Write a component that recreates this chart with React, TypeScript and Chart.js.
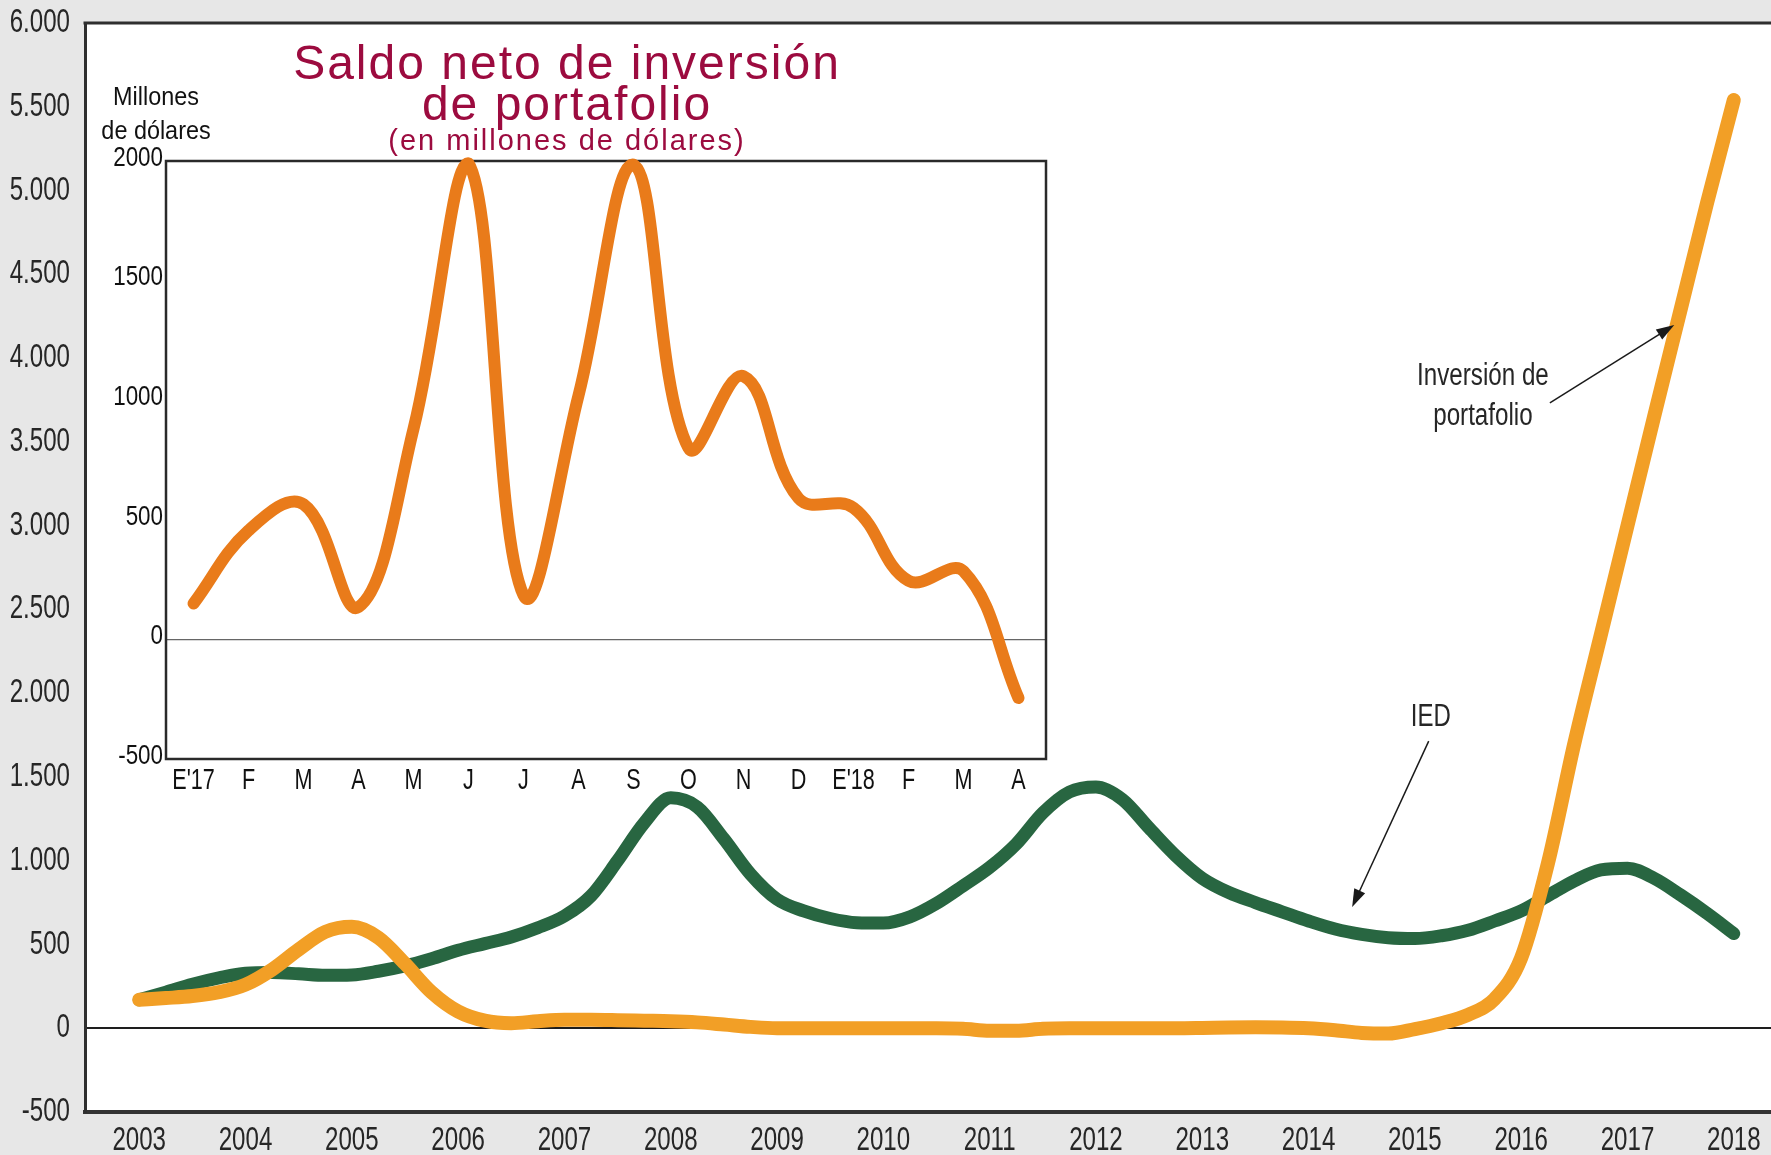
import React, { useEffect, useRef } from 'react';
import { Chart, registerables } from 'chart.js';

Chart.register(...registerables);

// ---------- Main chart data (millones de dólares) ----------
const periods = [
  2003.0, 2003.25, 2003.5, 2003.75, 2004.0, 2004.25, 2004.5, 2004.75,
  2005.0, 2005.25, 2005.5, 2005.75, 2006.0, 2006.25, 2006.5, 2006.75,
  2007.0, 2007.25, 2007.5, 2007.75, 2008.0, 2008.25, 2008.5, 2008.75,
  2009.0, 2009.25, 2009.5, 2009.75, 2010.0, 2010.25, 2010.5, 2010.75,
  2011.0, 2011.25, 2011.5, 2011.75, 2012.0, 2012.25, 2012.5, 2012.75,
  2013.0, 2013.25, 2013.5, 2013.75, 2014.0, 2014.25, 2014.5, 2014.75,
  2015.0, 2015.25, 2015.5, 2015.75, 2016.0, 2016.25, 2016.5, 2016.75,
  2017.0, 2017.25, 2017.5, 2017.75, 2018.0,
];

const iedValues = [
  170, 215, 262, 300, 328, 332, 325, 316,
  318, 340, 372, 415, 465, 505, 545, 600,
  670, 790, 1000, 1225, 1375, 1320, 1130, 920,
  770, 700, 655, 630, 628, 665, 745, 850,
  960, 1100, 1285, 1410, 1440, 1365, 1195, 1030,
  895, 810, 750, 695, 640, 592, 560, 540,
  535, 552, 585, 640, 700, 790, 880, 945,
  955, 895, 795, 685, 565,
];

const portfolioValues = [
  170, 180, 192, 215, 260, 350, 470, 575,
  605, 540, 385, 215, 100, 45, 30, 42,
  50, 50, 48, 45, 42, 35, 22, 8,
  0, 0, 0, 0, 0, 0, 0, -3,
  -15, -15, -3, 0, 0, 0, 0, 0,
  2, 5, 6, 5, 0, -12, -28, -32,
  -5, 30, 80, 175, 420, 980, 1700, 2350,
  3000, 3650, 4290, 4930, 5540,
];

const yearLabels = [
  2003, 2004, 2005, 2006, 2007, 2008, 2009, 2010,
  2011, 2012, 2013, 2014, 2015, 2016, 2017, 2018,
];

// ---------- Inset data ----------
const insetMonths = [
  "E'17", 'F', 'M', 'A', 'M', 'J', 'J', 'A', 'S', 'O', 'N', 'D', "E'18", 'F', 'M', 'A',
];
const insetValues = [
  150, 455, 565, 135, 880, 1990, 185, 1020, 1985, 800, 1100, 590, 550, 245, 285, -245,
];

// Annotation anchors (data coordinates: year, value)
const portfolioLabelAt = { x: 2015.64, y1: 3891, y2: 3652 };
const portfolioArrow = { x0: 2016.27, y0: 3732, x1: 2017.44, y1: 4198 };
const iedLabelAt = { x: 2015.15, y: 1858 };
const iedArrow = { x0: 2015.13, y0: 1714, x1: 2014.41, y1: 723 };

const SANS = '"Liberation Sans", Arial, sans-serif';
const ORANGE = '#f29f26';
const GREEN = '#286641';
const INSET_ORANGE = '#e97b1a';
const MAROON = '#9c0b3f';
const TEXT = '#262626';

function fmtThousands(v: number): string {
  const s = String(Math.abs(Math.round(v)));
  const withDots = s.replace(/\B(?=(\d{3})+(?!\d))/g, '.');
  return (v < 0 ? '-' : '') + withDots;
}

// Condensed text: regular sans squeezed horizontally (the original uses a condensed face)
function condText(
  ctx: CanvasRenderingContext2D, text: string, x: number, y: number,
  size: number, sx: number, align: CanvasTextAlign, color: string
) {
  ctx.save();
  ctx.font = `${size}px ${SANS}`;
  ctx.fillStyle = color;
  ctx.textAlign = align;
  ctx.textBaseline = 'middle';
  ctx.translate(x, y);
  ctx.scale(sx, 1);
  ctx.fillText(text, 0, 0);
  ctx.restore();
}

function drawArrow(ctx: CanvasRenderingContext2D, x0: number, y0: number, x1: number, y1: number) {
  const ang = Math.atan2(y1 - y0, x1 - x0);
  const headLen = 18;
  const headW = 6;
  ctx.save();
  ctx.strokeStyle = '#1a1a1a';
  ctx.fillStyle = '#1a1a1a';
  ctx.lineWidth = 1.5;
  ctx.beginPath();
  ctx.moveTo(x0, y0);
  ctx.lineTo(x1 - Math.cos(ang) * headLen * 0.8, y1 - Math.sin(ang) * headLen * 0.8);
  ctx.stroke();
  ctx.beginPath();
  ctx.moveTo(x1, y1);
  ctx.lineTo(
    x1 - Math.cos(ang) * headLen + Math.sin(ang) * headW,
    y1 - Math.sin(ang) * headLen - Math.cos(ang) * headW
  );
  ctx.lineTo(
    x1 - Math.cos(ang) * headLen - Math.sin(ang) * headW,
    y1 - Math.sin(ang) * headLen + Math.cos(ang) * headW
  );
  ctx.closePath();
  ctx.fill();
  ctx.restore();
}

const mainFramePlugin = {
  id: 'mainFrame',
  beforeDraw(chart: any) {
    const { ctx, chartArea } = chart;
    ctx.save();
    ctx.fillStyle = '#e7e7e7';
    ctx.fillRect(0, 0, chart.width, chart.height);
    ctx.fillStyle = '#ffffff';
    ctx.fillRect(chartArea.left, chartArea.top, chartArea.right - chartArea.left, chartArea.bottom - chartArea.top);
    ctx.restore();
  },
  afterDraw(chart: any) {
    const { ctx, chartArea } = chart;
    const xs = chart.scales.x;
    const ys = chart.scales.y;
    ctx.save();
    ctx.strokeStyle = '#2f2f2f';
    ctx.lineWidth = 3;
    ctx.beginPath();
    ctx.moveTo(chartArea.left - 1.5, chartArea.top);
    ctx.lineTo(chart.width, chartArea.top);
    ctx.stroke();
    ctx.restore();

    // axis tick labels (from the library's scales)
    ys.ticks.forEach((t: any) => {
      condText(ctx, fmtThousands(t.value), chartArea.left - 15, ys.getPixelForValue(t.value), 33, 0.73, 'right', TEXT);
    });
    xs.ticks.forEach((t: any) => {
      condText(ctx, String(t.value), xs.getPixelForValue(t.value), chartArea.bottom + 29, 33, 0.73, 'center', TEXT);
    });

    const px = (v: number) => xs.getPixelForValue(v);
    const py = (v: number) => ys.getPixelForValue(v);
    condText(ctx, 'Inversión de', px(portfolioLabelAt.x), py(portfolioLabelAt.y1), 31, 0.78, 'center', TEXT);
    condText(ctx, 'portafolio', px(portfolioLabelAt.x), py(portfolioLabelAt.y2), 31, 0.78, 'center', TEXT);
    condText(ctx, 'IED', px(iedLabelAt.x), py(iedLabelAt.y), 32, 0.75, 'center', TEXT);
    drawArrow(ctx, px(portfolioArrow.x0), py(portfolioArrow.y0), px(portfolioArrow.x1), py(portfolioArrow.y1));
    drawArrow(ctx, px(iedArrow.x0), py(iedArrow.y0), px(iedArrow.x1), py(iedArrow.y1));
  },
};

const insetPlugin = {
  id: 'insetFrame',
  beforeDraw(chart: any) {
    const { ctx, chartArea } = chart;
    ctx.save();
    ctx.fillStyle = '#ffffff';
    ctx.fillRect(chartArea.left, chartArea.top, chartArea.right - chartArea.left, chartArea.bottom - chartArea.top);
    ctx.restore();
  },
  beforeDatasetsDraw(chart: any) {
    const { ctx, chartArea } = chart;
    ctx.save();
    ctx.strokeStyle = '#2a2a2a';
    ctx.lineWidth = 2.5;
    ctx.strokeRect(chartArea.left, chartArea.top, chartArea.right - chartArea.left, chartArea.bottom - chartArea.top);
    ctx.restore();
  },
  afterDraw(chart: any) {
    const { ctx, chartArea } = chart;
    const xs = chart.scales.x;
    const ys = chart.scales.y;

    ys.ticks.forEach((t: any) => {
      condText(ctx, String(t.value), chartArea.left - 3, ys.getPixelForValue(t.value) - 3, 28, 0.8, 'right', '#111');
    });
    xs.ticks.forEach((t: any, i: number) => {
      condText(ctx, xs.getLabelForValue(t.value), xs.getPixelForTick(i), chartArea.bottom + 22, 30, 0.72, 'center', '#111');
    });

    ctx.save();
    ctx.fillStyle = MAROON;
    ctx.textAlign = 'center';
    ctx.textBaseline = 'alphabetic';
    (ctx as any).letterSpacing = '2px';
    ctx.font = `48px ${SANS}`;
    ctx.fillText('Saldo neto de inversión', 481, 49);
    ctx.fillText('de portafolio', 481, 90);
    ctx.font = `29px ${SANS}`;
    ctx.fillText('(en millones de dólares)', 481, 120);
    (ctx as any).letterSpacing = '0px';
    ctx.restore();

    condText(ctx, 'Millones', 70, 68, 26, 0.9, 'center', '#111');
    condText(ctx, 'de dólares', 70, 102, 26, 0.9, 'center', '#111');
  },
};

export default function App() {
  const mainRef = useRef<HTMLCanvasElement | null>(null);
  const insetRef = useRef<HTMLCanvasElement | null>(null);

  useEffect(() => {
    if (!mainRef.current || !insetRef.current) return;

    const main = new Chart(mainRef.current, {
      type: 'line',
      data: {
        datasets: [
          {
            label: 'Inversión de portafolio',
            data: periods.map((p, i) => ({ x: p, y: portfolioValues[i] })),
            borderColor: ORANGE,
            borderWidth: 14,
            pointRadius: 0,
            cubicInterpolationMode: 'monotone',
            borderCapStyle: 'round',
            borderJoinStyle: 'round',
            order: 0,
          },
          {
            label: 'IED',
            data: periods.map((p, i) => ({ x: p, y: iedValues[i] })),
            borderColor: GREEN,
            borderWidth: 13,
            pointRadius: 0,
            cubicInterpolationMode: 'monotone',
            borderCapStyle: 'round',
            borderJoinStyle: 'round',
            order: 1,
          },
        ],
      },
      options: {
        responsive: false,
        animation: false,
        events: [],
        layout: { padding: { top: 23, right: 0, left: 0, bottom: 0 } },
        plugins: { legend: { display: false }, tooltip: { enabled: false } },
        scales: {
          x: {
            type: 'linear',
            min: 2002.49,
            max: 2018.35,
            afterFit: (s: any) => { s.height = 43; },
            afterBuildTicks: (s: any) => { s.ticks = yearLabels.map((v) => ({ value: v })); },
            ticks: { display: false },
            grid: { display: false },
            border: { display: true, color: '#333', width: 4 },
          },
          y: {
            min: -500,
            max: 6000,
            afterFit: (s: any) => { s.width = 85; },
            ticks: { display: false, stepSize: 500 },
            grid: {
              drawTicks: false,
              lineWidth: 2,
              color: (c: any) => (c.tick && c.tick.value === 0 ? '#1e1e1e' : 'rgba(0,0,0,0)'),
            },
            border: { display: true, color: '#2f2f2f', width: 3 },
          },
        },
      },
      plugins: [mainFramePlugin],
    } as any);

    const inset = new Chart(insetRef.current, {
      type: 'line',
      data: {
        labels: insetMonths,
        datasets: [
          {
            label: 'Saldo neto de inversión de portafolio',
            data: insetValues,
            borderColor: INSET_ORANGE,
            borderWidth: 12,
            pointRadius: 0,
            tension: 0.4,
            borderCapStyle: 'round',
            borderJoinStyle: 'round',
            clip: false,
          },
        ],
      },
      options: {
        responsive: false,
        animation: false,
        events: [],
        layout: { padding: { top: 131, right: 20, left: 0, bottom: 0 } },
        plugins: { legend: { display: false }, tooltip: { enabled: false } },
        scales: {
          x: {
            type: 'category',
            offset: true,
            afterFit: (s: any) => { s.height = 41; },
            ticks: { display: false, autoSkip: false },
            grid: { display: false },
            border: { display: false },
          },
          y: {
            min: -500,
            max: 2000,
            afterFit: (s: any) => { s.width = 80; },
            ticks: { display: false, stepSize: 500 },
            grid: {
              drawTicks: false,
              lineWidth: 1.2,
              color: (c: any) => (c.tick && c.tick.value === 0 ? '#666' : 'rgba(0,0,0,0)'),
            },
            border: { display: false },
          },
        },
      },
      plugins: [insetPlugin],
    } as any);

    return () => {
      main.destroy();
      inset.destroy();
    };
  }, []);

  return (
    <div style={{ position: 'absolute', left: 0, top: 0, width: 1771, height: 1155, background: '#e7e7e7', overflow: 'hidden' }}>
      <canvas ref={mainRef} width={1771} height={1155} style={{ position: 'absolute', left: 0, top: 0, width: 1771, height: 1155 }} />
      <canvas ref={insetRef} width={980} height={770} style={{ position: 'absolute', left: 86, top: 30, width: 980, height: 770 }} />
    </div>
  );
}
